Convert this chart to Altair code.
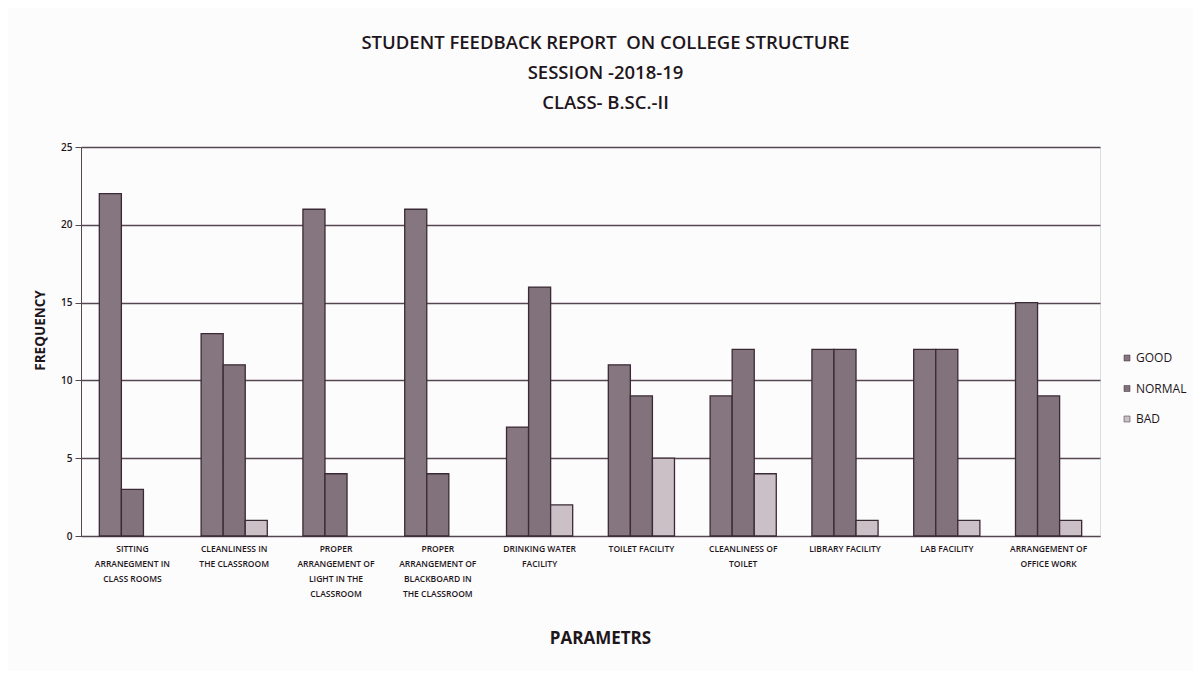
import altair as alt
import pandas as pd

params = [
    "SITTING|ARRANEGMENT IN|CLASS ROOMS",
    "CLEANLINESS IN|THE CLASSROOM",
    "PROPER|ARRANGEMENT OF|LIGHT IN THE|CLASSROOM",
    "PROPER|ARRANGEMENT OF|BLACKBOARD IN|THE CLASSROOM",
    "DRINKING WATER|FACILITY",
    "TOILET FACILITY",
    "CLEANLINESS OF|TOILET",
    "LIBRARY FACILITY",
    "LAB FACILITY",
    "ARRANGEMENT OF|OFFICE WORK",
]
good = [22, 13, 21, 21, 7, 11, 9, 12, 12, 15]
normal = [3, 11, 4, 4, 16, 9, 12, 12, 12, 9]
bad = [0, 1, 0, 0, 2, 5, 4, 1, 1, 1]
series = ["GOOD", "NORMAL", "BAD"]
colors = ["#857680", "#82727c", "#cbc0c6"]
title_lines = ["STUDENT FEEDBACK REPORT\u00a0 ON COLLEGE STRUCTURE", "SESSION -2018-19", "CLASS- B.SC.-II"]

rows = []
for i, p in enumerate(params):
    for s, vals in zip(series, [good, normal, bad]):
        rows.append({"param": p, "series": s, "value": vals[i]})
df = pd.DataFrame(rows)

FONT = "Open Sans"
INK = "#1e161b"
GRID = "#55464f"

bars = alt.Chart(df).transform_filter("datum.value > 0").mark_bar(
    stroke="#3a2a34", strokeWidth=1.3
).encode(
    x=alt.X("param:N", sort=params,
            scale=alt.Scale(domain=params, paddingInner=0.35, paddingOuter=0.18),
            axis=alt.Axis(labelExpr="split(datum.label, '|')", labelAngle=0,
                          labelFont=FONT, labelFontSize=8.5, labelFontWeight=600,
                          labelColor=INK,
                          labelLineHeight=15, labelPadding=8, ticks=False,
                          domain=True, domainColor=GRID, domainWidth=1.2,
                          title="PARAMETRS", titleFont=FONT, titleFontSize=17,
                          titleFontWeight="bold", titleColor=INK,
                          titlePadding=33, titleX=519, labelLimit=200)),
    xOffset=alt.XOffset("series:N", sort=series,
                        scale=alt.Scale(domain=series, paddingInner=0, paddingOuter=0)),
    y=alt.Y("value:Q", scale=alt.Scale(domain=[0, 25]),
            axis=alt.Axis(values=[0, 5, 10, 15, 20, 25], labelFont=FONT,
                          labelFontSize=10, labelFontWeight=600, labelColor=INK,
                          tickSize=6, tickColor=GRID, domain=True,
                          domainColor=GRID, gridColor=GRID,
                          gridWidth=1.3, labelPadding=3,
                          title="FREQUENCY", titleFont=FONT, titleFontSize=13.5,
                          titleFontWeight="bold", titleColor=INK,
                          titlePadding=13, titleY=183)),
    color=alt.Color("series:N", sort=series,
                    scale=alt.Scale(domain=series, range=colors),
                    legend=alt.Legend(title=None, orient="none", legendX=1040,
                                      legendY=205, symbolType="square",
                                      symbolSize=36, symbolStrokeColor="#3a2a34",
                                      symbolStrokeWidth=0.5,
                                      labelFont=FONT, labelFontSize=12,
                                      labelColor=INK, rowPadding=18.5,
                                      labelOffset=3, labelLimit=80)),
)

chart = bars.properties(
    width=1019,
    height=389,
    autosize=alt.AutoSizeParams(type="none"),
    padding={"left": 73, "top": 139, "right": 93, "bottom": 135},
    title=alt.TitleParams(text=title_lines, font=FONT, fontSize=18.5,
                          fontWeight=600, color=INK, lineHeight=30,
                          anchor="middle", dx=15, offset=30),
).configure_view(strokeWidth=0).configure(background="#fdfcfd")

chart.save("out.html", embed_options={"renderer": "svg", "actions": False})
